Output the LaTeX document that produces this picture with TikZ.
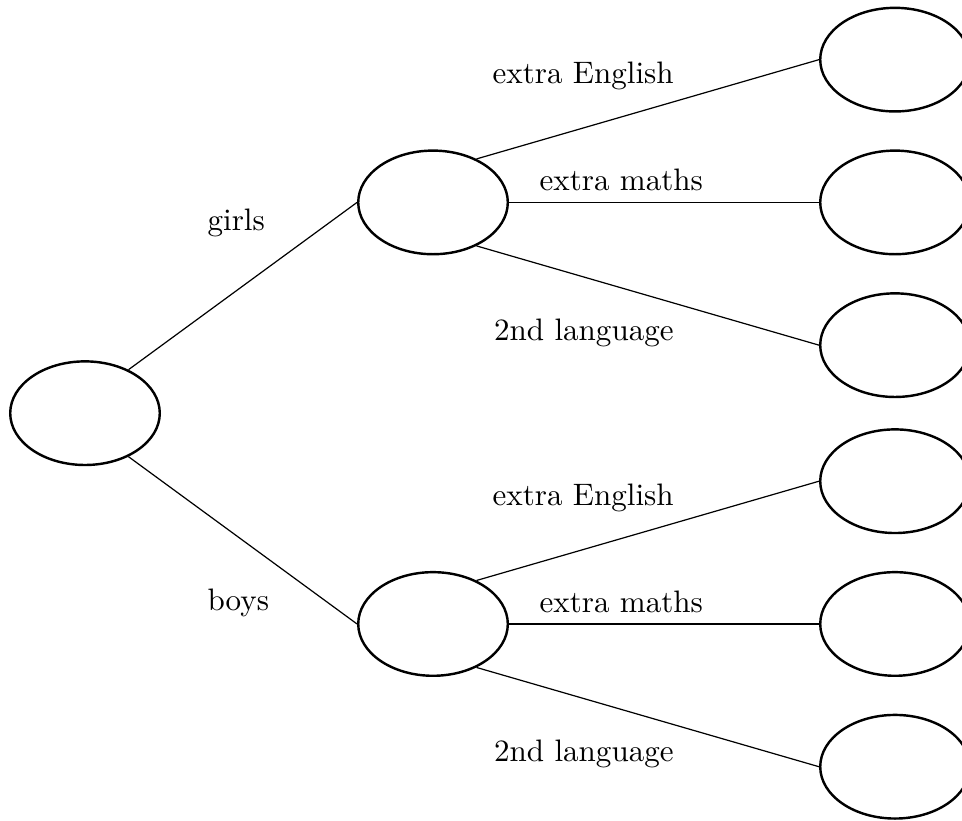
\documentclass[tikz,border=0pt]{standalone}
\usepackage{tikz}
\usetikzlibrary{positioning,shapes.geometric}

\begin{document}
\begin{tikzpicture}[
  on grid,
  oval/.style = {
    draw,
    ellipse,
    thick,
    minimum width = 1.735cm,
    minimum height = 1.202cm,
  },
  lbl/.style = {
    inner sep = 0pt,
    anchor = base west,
    font = \fontsize{10.25pt}{12pt}\selectfont,
  },
]

  \useasboundingbox (-0.986,-4.719) rectangle (10.173,4.793);

  \node[oval] (root) at (0,0) {};

  \node[oval] (girls) [above right=2.445cm and 4.037cm of root] {};
  \node[oval] (boys) [below right=2.445cm and 4.037cm of root] {};

  \node[oval] (gEnglish) [above right=1.656cm and 5.359cm of girls] {};
  \node[oval] (gMaths) [right=5.359cm of girls] {};
  \node[oval] (gLang) [below right=1.656cm and 5.359cm of girls] {};

  \node[oval] (bEnglish) [above right=1.656cm and 5.359cm of boys] {};
  \node[oval] (bMaths) [right=5.359cm of boys] {};
  \node[oval] (bLang) [below right=1.656cm and 5.359cm of boys] {};

  % labels
  \node (girlsTxt) [above right=2.117cm and 1.415cm of root, lbl] {girls};
  \node (boysTxt) [below right=2.291cm and 1.415cm of root, lbl] {boys};

  \node (gEnglishTxt) [above right=1.38cm and 0.685cm of girls, lbl] {extra English};
  \node (gMathsTxt) [above right=0.134cm and 1.23cm of girls, lbl] {extra maths};
  \node (gLangTxt) [below right=1.597cm and 0.702cm of girls, lbl] {2nd language};

  \node (bEnglishTxt) [above right=1.38cm and 0.685cm of boys, lbl] {extra English};
  \node (bMathsTxt) [above right=0.134cm and 1.23cm of boys, lbl] {extra maths};
  \node (bLangTxt) [below right=1.597cm and 0.702cm of boys, lbl] {2nd language};

  \draw (root.45) -- (girls.west);
  \draw (root.-45) -- (boys.west);

  \draw (girls.45) -- (gEnglish.west);
  \draw (girls.east) -- (gMaths.west);
  \draw (girls.-45) -- (gLang.west);

  \draw (boys.45) -- (bEnglish.west);
  \draw (boys.east) -- (bMaths.west);
  \draw (boys.-45) -- (bLang.west);

\end{tikzpicture}
\end{document}
